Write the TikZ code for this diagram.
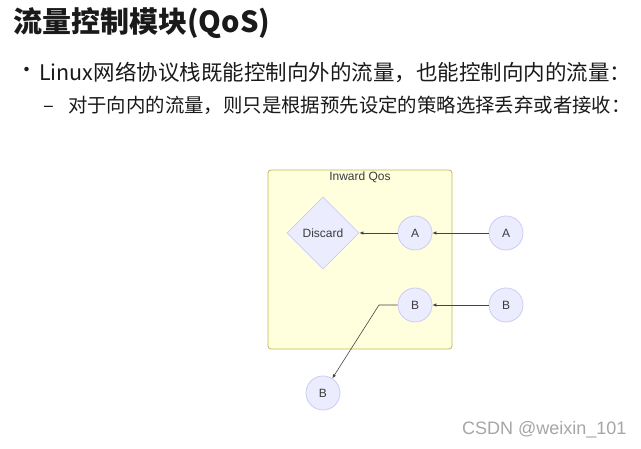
\documentclass[tikz,border=0pt]{standalone}
\usepackage{fontspec}
\setmainfont{Liberation Sans}
\newfontfamily\cjkfont{Noto Sans CJK SC}
\usetikzlibrary{arrows.meta,positioning,shapes.geometric}
\definecolor{ClusterFill}{HTML}{FFFFDE}
\definecolor{ClusterEdge}{HTML}{BDBD55}
\definecolor{NodeFill}{HTML}{ECECFF}
\definecolor{NodeEdge}{HTML}{CCCCF2}
\definecolor{LinkGrey}{HTML}{444444}
\definecolor{TextDark}{HTML}{1A1A1A}
\definecolor{MarkGrey}{HTML}{A6A6A6}

\begin{document}
\begin{tikzpicture}[x=1pt,y=-1pt,
        cluster/.style={draw=ClusterEdge,line width=0.8pt,rounded corners=3pt,fill=ClusterFill,
                    minimum width=184pt,minimum height=179pt},
        flow/.style={circle,draw=NodeEdge,line width=0.8pt,fill=NodeFill,minimum size=34pt,
                    inner sep=0pt,font=\fontsize{12}{14}\selectfont,text=TextDark!85},
        choice/.style={diamond,draw=NodeEdge,line width=0.8pt,fill=NodeFill,minimum width=72pt,
                    minimum height=72pt,inner sep=0pt,font=\fontsize{12}{14}\selectfont,text=TextDark!85},
        arr/.style={draw=LinkGrey,line width=0.6pt,-{Latex[length=4pt,width=3.5pt]}},
        head/.style={anchor=west,inner sep=0pt,text=TextDark,font=\cjkfont}]
      \useasboundingbox[fill=white] (0,0) rectangle (641,449);
      % slide text
      \node[head,font=\cjkfont\bfseries\fontsize{29}{33}\selectfont] (title) at (13,23) {流量控制模块(QoS)};
      \node[head,font=\cjkfont\fontsize{21}{24}\selectfont] (dot) at (16,72) {•};
      \node[head,font=\cjkfont\fontsize{21.5}{24}\selectfont] (lineone) at (39,72) {Linux网络协议栈既能控制向外的流量，也能控制向内的流量：};
      \node[head,font=\cjkfont\fontsize{20}{24}\selectfont] (dash) at (43,109) {–};
      \node[head,font=\cjkfont\fontsize{19.4}{24}\selectfont] (linetwo) at (68,105) {对于向内的流量，则只是根据预先设定的策略选择丢弃或者接收：};
      % diagram
      \node[cluster] (qos) at (360,259.5) {};
      \node[font=\fontsize{12}{14}\selectfont,text=TextDark!85] (qostitle) at (360,177) {Inward Qos};
      \node[choice] (discard) at (323,233) {Discard};
      \node[flow] (inA)  at (415,233) {A};
      \node[flow] (outA) at (506,233) {A};
      \node[flow] (inB)  at (415,305) {B};
      \node[flow] (outB) at (506,305) {B};
      \node[flow] (passB) at (323,393) {B};
      \coordinate (bend) at (379,305);
      \draw[arr] (outA) -- (inA);
      \draw[arr] (inA)  -- (discard);
      \draw[arr] (outB) -- (inB);
      \draw[arr] (inB.west) -- (bend) -- (passB);
      \node[anchor=west,inner sep=0pt,font=\fontsize{18}{20}\selectfont,text=MarkGrey] (mark) at (462,430) {CSDN @weixin\_101};
    \end{tikzpicture}
\end{document}
